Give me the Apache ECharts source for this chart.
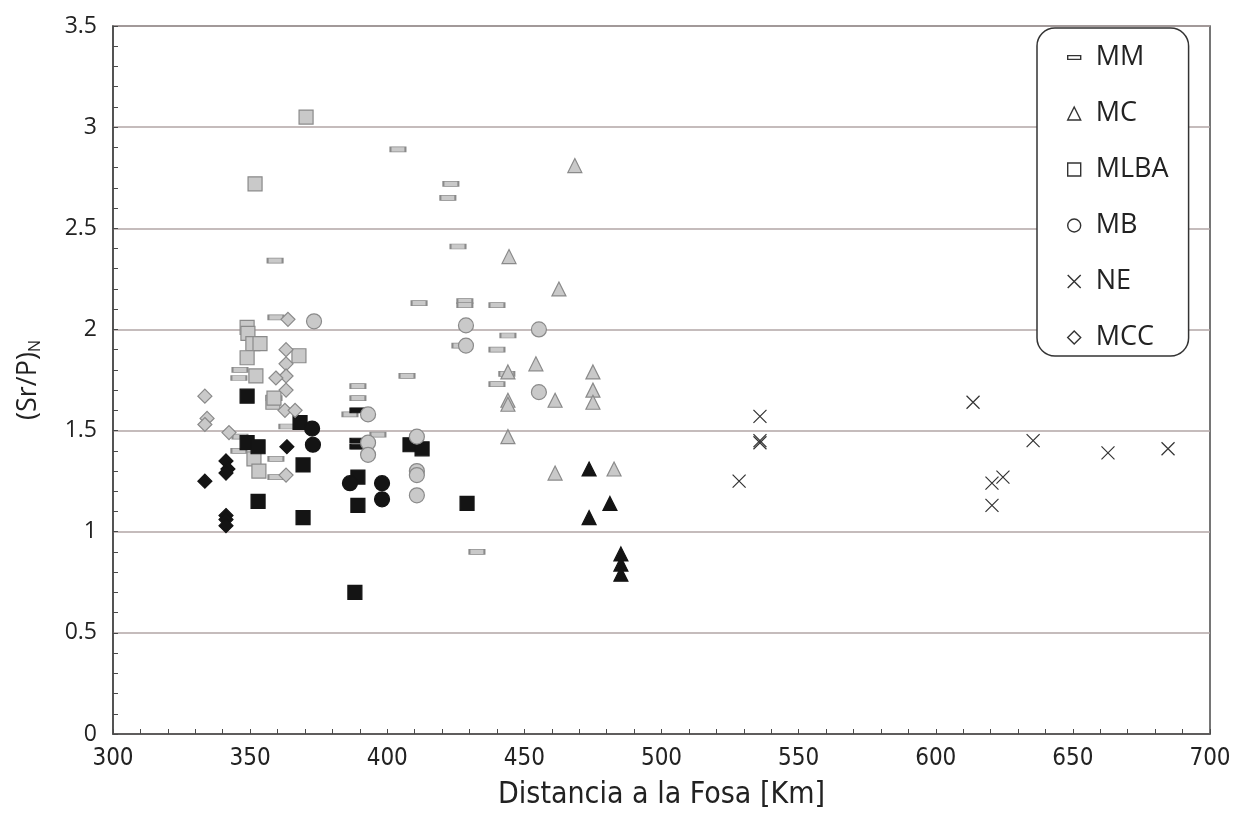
<!DOCTYPE html>
<html>
<head>
<meta charset="utf-8">
<script src="https://cdn.jsdelivr.net/npm/echarts@6/dist/echarts.min.js"></script>
<style>
  html, body { margin: 0; padding: 0; background: #fff; }
  #chart { width: 1240px; height: 816px; }
</style>
</head>
<body>
<div id="chart"></div>
<script>
// [distancia km, (Sr/P)N]
var mmGray = [
  [359.1, 2.34], [359.4, 2.06], [346.3, 1.80], [345.9, 1.76], [358.7, 1.66],
  [363.4, 1.52], [346.3, 1.47], [345.9, 1.40], [359.4, 1.36], [359.4, 1.27],
  [411.6, 2.13], [428.3, 2.14], [428.3, 2.12], [440.0, 2.12], [444.0, 1.97],
  [426.5, 1.92], [440.0, 1.90], [407.2, 1.77], [443.6, 1.78], [389.3, 1.72],
  [389.3, 1.66], [440.0, 1.73], [386.4, 1.58], [396.6, 1.48], [432.7, 0.90],
  [403.9, 2.89], [423.2, 2.72], [422.1, 2.65], [425.8, 2.41]
];
var mmBlack = [[389.3, 1.60], [389.3, 1.45], [389.3, 1.42]];

var mlbaGray = [
  [370.4, 3.05], [351.8, 2.72], [348.9, 2.01], [349.2, 1.98], [351.0, 1.93],
  [353.6, 1.93], [348.9, 1.86], [367.8, 1.87], [352.1, 1.77], [358.3, 1.64],
  [358.7, 1.66], [351.4, 1.36], [353.2, 1.30]
];
var mlbaBlack = [
  [348.9, 1.67], [348.9, 1.44], [352.9, 1.42], [352.9, 1.15], [369.3, 1.33],
  [369.3, 1.07], [368.2, 1.54], [408.3, 1.43], [412.7, 1.41], [389.3, 1.27],
  [389.3, 1.13], [429.1, 1.14], [388.2, 0.70]
];

var mccGray = [
  [363.8, 2.05], [363.1, 1.90], [363.1, 1.83], [363.1, 1.77], [359.4, 1.76],
  [363.1, 1.70], [333.5, 1.67], [362.7, 1.60], [366.4, 1.60], [334.3, 1.56],
  [333.5, 1.53], [342.3, 1.49], [363.1, 1.28]
];
var mccBlack = [
  [363.4, 1.42], [341.2, 1.35], [341.9, 1.31], [341.2, 1.29], [333.5, 1.25],
  [341.2, 1.08], [341.2, 1.06], [341.2, 1.03]
];

var mcGray = [
  [468.4, 2.81], [444.4, 2.36], [462.6, 2.20], [454.2, 1.83], [444.0, 1.79],
  [444.0, 1.65], [444.0, 1.63], [444.0, 1.47], [475.0, 1.79], [475.0, 1.70],
  [475.0, 1.64], [461.2, 1.65], [461.2, 1.29], [482.7, 1.31]
];
var mcBlack = [
  [473.6, 1.31], [481.2, 1.14], [473.6, 1.07], [485.2, 0.89], [485.2, 0.84],
  [485.2, 0.79]
];

var mbGray = [
  [373.3, 2.04], [428.7, 2.02], [455.3, 2.00], [428.7, 1.92], [455.3, 1.69],
  [393.0, 1.58], [410.8, 1.47], [393.0, 1.44], [393.0, 1.38], [410.8, 1.30],
  [410.8, 1.28], [410.8, 1.18]
];
var mbBlack = [[372.6, 1.51], [372.9, 1.43], [386.4, 1.24], [398.1, 1.24], [398.1, 1.16]];

var neData = [
  [535.9, 1.57], [535.9, 1.45], [535.9, 1.44], [528.3, 1.25], [613.6, 1.64],
  [635.5, 1.45], [620.5, 1.24], [624.5, 1.27], [620.5, 1.13], [662.8, 1.39],
  [684.7, 1.41]
];

var legendNames = ['MM', 'MC', 'MLBA', 'MB', 'NE', 'MCC'];

var GRAY = '#c9c9c9', GRAY_B = '#8a8a8a', BLACK = '#141414';
var dashPath = 'path://M0,0M0,14M0,5L14,5L14,9L0,9Z';
var crossPath = 'path://M0,0L10,10M10,0L0,10';
var condensed = 'DejaVu Sans Condensed, Open Sans';

function sc(name, data, symbol, size, fill, border) {
  return {
    name: name,
    type: 'scatter',
    data: data,
    symbol: symbol,
    symbolSize: size,
    itemStyle: { color: fill, borderColor: border, borderWidth: 1.2, opacity: 1 },
    emphasis: { disabled: true }
  };
}

var legendIcons = {
  MM: dashPath,
  MC: 'triangle',
  MLBA: 'rect',
  MB: 'circle',
  NE: crossPath,
  MCC: 'diamond'
};

var chart = echarts.init(document.getElementById('chart'));
chart.setOption({
  animation: false,
  backgroundColor: '#fff',
  grid: {
    left: 113, right: 30, top: 26, bottom: 82,
    show: true, borderColor: '#4a4a4a', borderWidth: 1.5
  },
  legend: {
    orient: 'vertical',
    left: 1037, top: 28,
    padding: [16, 20, 5, 30],
    itemGap: 29,
    itemWidth: 13, itemHeight: 13,
    borderColor: '#333', borderWidth: 1.5, borderRadius: 18,
    backgroundColor: '#fff',
    selectedMode: false,
    textStyle: { fontFamily: 'Open Sans', fontSize: 27, color: '#222', lineHeight: 26, padding: [0, 0, 0, 10] },
    data: legendNames.map(function (n) {
      return {
        name: n,
        icon: legendIcons[n],
        itemStyle: { color: '#fff', borderColor: '#333', borderWidth: 1.4 }
      };
    })
  },
  xAxis: {
    type: 'value',
    min: 300, max: 700, interval: 50,
    name: 'Distancia a la Fosa [Km]',
    nameLocation: 'middle',
    nameGap: 46,
    nameTextStyle: { fontFamily: condensed, fontSize: 30, color: '#222' },
    axisLine: { show: true, lineStyle: { color: '#4a4a4a', width: 1.5 } },
    axisTick: { show: true, inside: true, length: 5, lineStyle: { color: '#4a4a4a' } },
    minorTick: { show: true, splitNumber: 5, length: 5, lineStyle: { color: '#4a4a4a' } },
    axisLabel: { fontFamily: condensed, fontSize: 24, color: '#222', margin: 13 },
    splitLine: { show: false }
  },
  yAxis: {
    type: 'value',
    min: 0, max: 3.5, interval: 0.5,
    name: '(Sr/P){sub|N}',
    nameLocation: 'middle',
    nameGap: 70,
    nameRotate: 90,
    nameTextStyle: {
      fontFamily: 'Open Sans', fontSize: 27, color: '#222',
      rich: { sub: { fontFamily: 'Open Sans', fontSize: 16, color: '#222', padding: [14, 0, 0, 0] } }
    },
    axisLine: { show: true, lineStyle: { color: '#4a4a4a', width: 1.5 } },
    axisTick: { show: true, inside: true, length: 5, lineStyle: { color: '#4a4a4a' } },
    minorTick: { show: true, splitNumber: 5, length: 5, lineStyle: { color: '#4a4a4a' } },
    axisLabel: { fontFamily: 'Open Sans', fontSize: 23, color: '#222', margin: 16 },
    splitLine: { show: true, lineStyle: { color: '#b2a6a6', width: 1.5 } }
  },
  series: [
    sc('MM', mmGray, 'rect', [15, 5], GRAY, GRAY_B),
    sc('MM', mmBlack, 'rect', [15, 5], BLACK, BLACK),
    sc('MLBA', mlbaGray, 'rect', 14, GRAY, GRAY_B),
    sc('MLBA', mlbaBlack, 'rect', 14, BLACK, BLACK),
    sc('MCC', mccGray, 'diamond', 14, GRAY, GRAY_B),
    sc('MCC', mccBlack, 'diamond', 14, BLACK, BLACK),
    sc('MC', mcGray, 'triangle', 14, GRAY, GRAY_B),
    sc('MC', mcBlack, 'triangle', 14, BLACK, BLACK),
    sc('MB', mbGray, 'circle', 15, GRAY, GRAY_B),
    sc('MB', mbBlack, 'circle', 15, BLACK, BLACK),
    sc('NE', neData, crossPath, 13, '#333', '#333')
  ]
});
</script>
</body>
</html>
